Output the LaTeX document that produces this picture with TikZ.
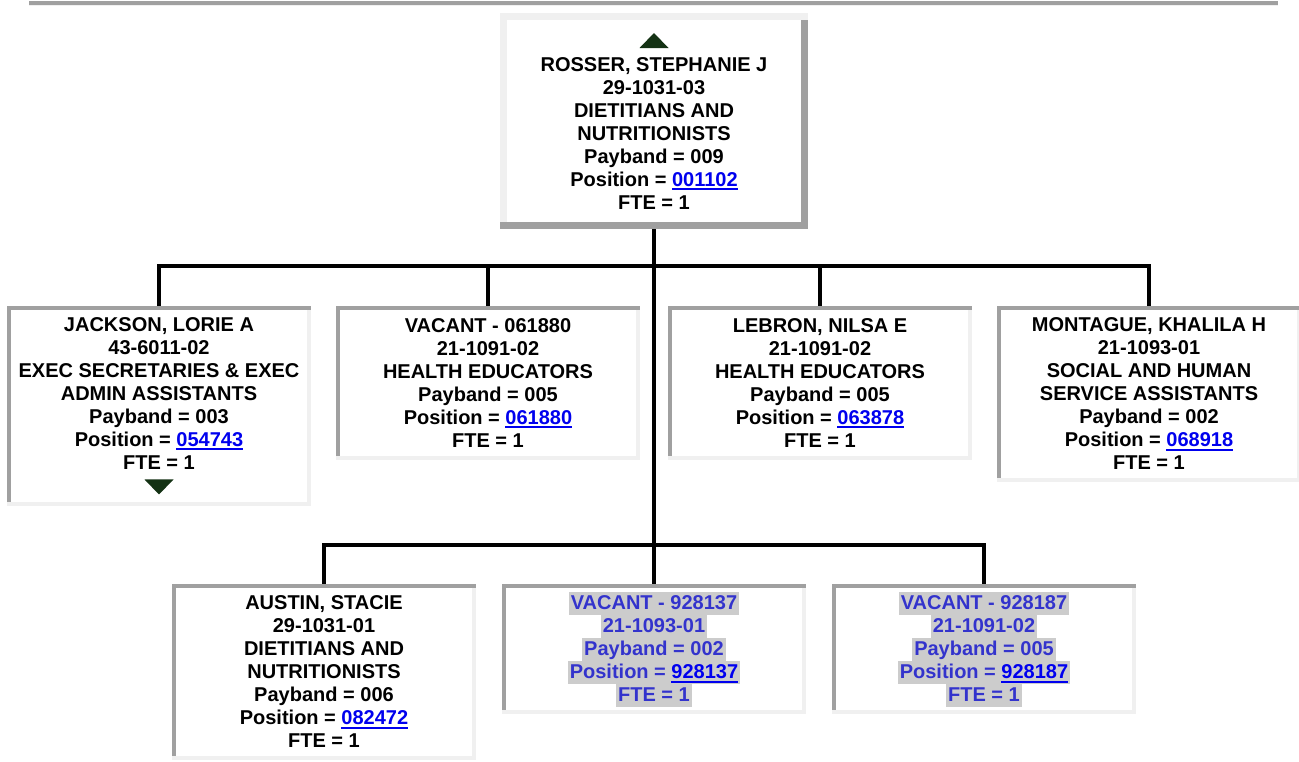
\documentclass[tikz,border=0pt]{standalone}
\usepackage{fontspec}
\setmainfont{Liberation Sans}
\usetikzlibrary{positioning}
\definecolor{edgedark}{RGB}{160,160,160}
\definecolor{edgelight}{RGB}{240,240,240}
\definecolor{linkblue}{RGB}{0,0,238}
\definecolor{vacblue}{RGB}{51,51,204}
\definecolor{hlgrey}{RGB}{204,204,204}
\definecolor{caretgreen}{RGB}{20,50,20}
\newcommand{\plink}[1]{{\color{linkblue}\setbox0\hbox{#1}\rlap{\rule[-3pt]{\wd0}{1.5pt}}\box0}}
\newcommand{\hl}[1]{{\setlength{\fboxsep}{0pt}\colorbox{hlgrey}{\rule[-3.75pt]{0pt}{17.25pt}\hspace{1.5pt}#1\hspace{1.5pt}}}}
\newcommand{\caretup}{\tikz[baseline=0pt]\fill[caretgreen] (0pt,0pt) -- (21.75pt,0pt) -- (10.875pt,11.25pt) -- cycle;}
\newcommand{\caretdown}{\tikz[baseline=1.5pt]\fill[caretgreen] (0pt,11.25pt) -- (21.75pt,11.25pt) -- (10.875pt,0pt) -- cycle;}
\newcommand{\bevelbox}[3]{%
  \fill[#2] (path picture bounding box.north west) rectangle ([yshift=-#1]path picture bounding box.north east);
  \fill[#2] (path picture bounding box.north west) rectangle ([xshift=#1,yshift=#1]path picture bounding box.south west);
  \fill[#3] (path picture bounding box.south west) rectangle ([yshift=#1]path picture bounding box.south east);
  \fill[#3] ([yshift=-#1]path picture bounding box.north east) rectangle ([xshift=-#1]path picture bounding box.south east);}

\begin{document}
\begin{tikzpicture}[x=0.75pt, y=-0.75pt,
  card/.style={inner sep=0pt, align=center, minimum width=228pt, fill=white,
               font=\fontsize{15}{17.25}\selectfont\bfseries},
  headbox/.style={card, minimum width=231pt, path picture={\bevelbox{5.25pt}{edgelight}{edgedark}}},
  staffbox/.style={card, path picture={\bevelbox{3pt}{edgedark}{edgelight}}},
  vacbox/.style={staffbox, text=vacblue},
  wire/.style={line width=3pt, black, line join=miter}]
\useasboundingbox (0,0) rectangle (1299,761);

% rule along the top
\fill[edgedark] (29,1) rectangle (1278,4.5);
\fill[edgelight] (29,4.5) rectangle (1278,6);

\node[headbox, minimum height=162pt] (head) at (654,121) {\caretup\\ROSSER, STEPHANIE J\\29-1031-03\\DIETITIANS AND\\
  NUTRITIONISTS\\Payband = 009\\Position = \plink{001102}\\FTE = 1};

\node[staffbox, minimum height=150pt] (jackson) at (159,406) {JACKSON, LORIE A\\43-6011-02\\EXEC SECRETARIES \& EXEC\\
  ADMIN ASSISTANTS\\Payband = 003\\Position = \plink{054743}\\FTE = 1\\\caretdown};
\node[staffbox, minimum height=115.5pt] (vacant) at (488,383) {VACANT - 061880\\21-1091-02\\HEALTH EDUCATORS\\
  Payband = 005\\Position = \plink{061880}\\FTE = 1};
\node[staffbox, minimum height=115.5pt] (lebron) at (820,383) {LEBRON, NILSA E\\21-1091-02\\HEALTH EDUCATORS\\
  Payband = 005\\Position = \plink{063878}\\FTE = 1};
\node[staffbox, minimum height=132pt] (montague) at (1149,394) {MONTAGUE, KHALILA H\\21-1093-01\\SOCIAL AND HUMAN\\
  SERVICE ASSISTANTS\\Payband = 002\\Position = \plink{068918}\\FTE = 1};

\node[staffbox, minimum height=132pt] (austin) at (324,672) {AUSTIN, STACIE\\29-1031-01\\DIETITIANS AND\\
  NUTRITIONISTS\\Payband = 006\\Position = \plink{082472}\\FTE = 1};
\node[vacbox, minimum height=97.5pt] (vacantb) at (654,649) {\hl{VACANT - 928137}\\\hl{21-1093-01}\\
  \hl{Payband = 002}\\\hl{Position = \plink{928137}}\\\hl{FTE = 1}};
\node[vacbox, minimum height=97.5pt] (vacantc) at (984,649) {\hl{VACANT - 928187}\\\hl{21-1091-02}\\
  \hl{Payband = 005}\\\hl{Position = \plink{928187}}\\\hl{FTE = 1}};

\coordinate (bus1) at (654,266);
\coordinate (bus2) at (654,545);

\draw[wire] (head.south) -- (bus2);
\foreach \b in {jackson,vacant,lebron,montague} \draw[wire] (\b.north) |- (bus1);
\foreach \b in {austin,vacantb,vacantc} \draw[wire] (\b.north) |- (bus2);
\end{tikzpicture}
\end{document}
